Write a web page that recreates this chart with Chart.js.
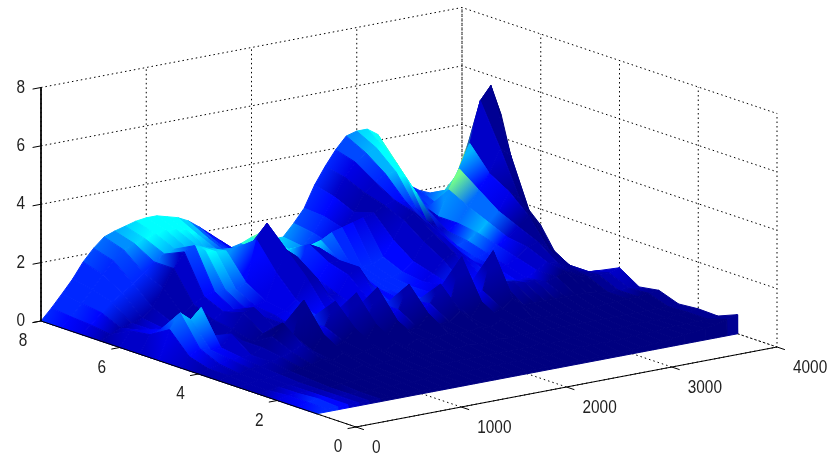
<!DOCTYPE html>
<html>
<head>
<meta charset="utf-8">
<style>
  body { margin: 0; background: #fff; }
  canvas { display: block; filter: blur(0.5px); }
</style>
<script src="https://cdn.jsdelivr.net/npm/chart.js@4/dist/chart.umd.min.js"></script>
</head>
<body>
<canvas id="myChart" width="828" height="456"></canvas>
<script>
const xTicks = [0, 1000, 2000, 3000, 4000];
const yTicks = [0, 2, 4, 6, 8];
const zTicks = [0, 2, 4, 6, 8];

// surface grid, back row first
const xs = [0,100,200,300,400,500,600,700,800,900,1000,1100,1200,1300,1400,1500,1600,1700,1800,1900,2000,2100,2200,2300,2400,2500,2600,2700,2800,2900,3000,3100,3200,3300,3400,3500,3600,3700,3800,3900,4000];
const ys = [8, 7.5, 7, 6.5, 6, 5.5, 5, 4.5, 4, 3.5, 3, 2.5, 2, 1.5, 1.01, 1];

const zRows = [
  [0,.38,.8,1.23,1.75,2.15,2.47,2.6,2.7,2.8, 2.85,2.85,2.75,2.65,2.47,2.2,1.9,1.6,1.27,1.35, 1.5,1.6,1.3,1.3,1.7,2.15,2.88,3.45,3.95,4.35, 4.45,4.45,4.2,3.4,2.67,2.25,2,1.85,1.7,1.8, 2.8],
  [0,.3,.7,1.1,1.55,1.95,2.25,2.4,2.5,2.6, 2.65,2.6,2.5,2.3,2.1,1.85,1.6,1.4,1.2,1.2, 1.3,1.2,1.1,1.2,1.6,2.1,2.7,3.3,3.75,4, 4.1,3.95,3.4,2.6,2,1.75,1.7,2.2,2.8,3.65, 4.8],
  [0,.25,.6,.9,1.15,1.4,1.7,2,2.2,2.3, 2.3,2.3,2.15,2,1.8,1.6,1.4,1.2,1,1, 1.1,1,.95,1.1,1.4,1.9,2.4,3,3.3,3.5, 3.5,3.2,2.6,2,1.7,2.55,3.2,4,5.4,5.85, 4.75],
  [0,.15,.3,.4,.5,.8,1.4,2,2.5,2.65, 2.4,2.3,2.25,2.3,2.2,2,2,1.9,1.9,1.9, 1.9,2,2.2,2.3,2.4,2.5,2.6,2.8,2.9,2.8, 2.5,2,1.7,1.5,1.7,2.2,2.7,3.2,4,3.7, 2.1],
  [0,.5,.45,.4,.4,.5,.7,1,1.2,1.3, 1.3,1.25,1.4,2.8,3.3,2.2,1.5,1.7,2.3,2.1, 1.8,1.5,1.3,1.2,1.2,1.4,1.9,2.5,2.7,2.3, 1.9,1.5,1.3,1.4,1.6,1.9,2.2,2.8,2.5,1.9, 1.45],
  [0,.6,.7,.6,.5,.4,.5,.7,.9,.9, .9,.9,1,1.9,2.6,2.3,1.4,1.4,1.9,1.9, 1.5,1.3,1.1,1,1,1.1,1.4,2,2.2,2, 1.6,1.2,1.1,1.2,1.4,1.6,1.9,2.2,1.6,1, .4],
  [0,1,1.5,1.2,1.55,.5,.4,.6,1.1,1.2, .8,.8,.9,1.2,1.9,1.8,1.2,1.1,1.7,1.9, 1.3,1,.9,.9,.9,1,1.2,1.6,1.8,1.6, 1.3,1.1,1,1,1.2,1.5,1.6,1.3,.9,.6, .27],
  [0,.3,.5,.4,.4,.8,.5,.4,.6,.8, .8,.6,.7,.9,1,.9,.7,.9,1.1,.9, .9,.9,.8,.8,.9,1.1,1,1,1.1,1, .9,.9,.8,.8,1,1.2,1.1,.9,.7,.6, .58],
  [0,.1,.2,.3,.3,.3,.5,.8,1.2,.7, 1.85,.7,.8,1.6,.7,1.75,.7,1.8,.8,.9, 1.7,.8,.9,1.5,.9,2.3,.9,1,2.3,1.1, 1.1,1,1,.9,1,1.1,.9,.8,.8,.8, .9],
  [0,.1,.1,.2,.2,.3,.4,.5,.7,.4, .9,.4,.5,.9,.4,.9,.4,.9,.5,.5, .9,.5,.5,.8,.5,1,.5,.6,.9,.6, .6,.6,.6,.6,.6,.6,.55,.5,.5,.5, .47],
  [0,.05,.1,.1,.15,.2,.25,.3,.4,.3, .5,.3,.4,.5,.3,.5,.3,.5,.4,.4, .5,.4,.4,.5,.4,.6,.4,.45,.5,.4, .4,.4,.4,.4,.4,.45,.45,.5,.5,.55, .58],
  [0,.05,.1,.1,.1,.15,.2,.2,.3,.2, .3,.2,.25,.3,.2,.3,.2,.3,.25,.25, .3,.25,.25,.3,.25,.35,.25,.3,.3,.3, .3,.3,.3,.3,.3,.3,.3,.3,.3,.32, .34],
  [0,.1,.1,.1,.1,.1,.15,.15,.2,.15, .2,.15,.2,.2,.15,.2,.15,.2,.2,.2, .2,.2,.2,.2,.2,.25,.2,.2,.25,.25, .25,.25,.25,.25,.3,.3,.3,.3,.35,.35, .4],
  [0,.1,.15,.1,.1,.1,.1,.1,.15,.1, .15,.1,.15,.15,.1,.15,.1,.15,.15,.15, .15,.15,.15,.15,.15,.2,.15,.2,.2,.2, .2,.2,.25,.25,.25,.3,.3,.3,.35,.35, .38],
  [0,.1,.1,.1,.1,.1,.1,.1,.1,.1, .1,.1,.1,.1,.1,.1,.1,.1,.1,.1, .1,.1,.1,.1,.1,.1,.1,.1,.1,.1, .15,.15,.2,.2,.25,.3,.35,.4,.45,.55, .65],
  [0,0,0,0,0,0,0,0,0,0, 0,0,0,0,0,0,0,0,0,0, 0,0,0,0,0,0,0,0,0,0, 0,0,0,0,0,0,0,0,0,0, 0]
];

// colour value of each grid point, same shape as zRows
const cRows = [
  [3,3,3,3,3,4,4,5,5,6, 6,6,6,6,5,3,2,2,3,6, 7,7,6,5,4,3,3,3,3,4, 5,6,6,7,6,3,3,4,5,8, 9],
  [2,3,3,3,3,3,4,5,6,6, 6,6,6,6,4,3,3,2,3,5, 6,6,5,4,3,3,2,1,3,4, 6,6,7,7,3,3,4,6,8,8, 1],
  [2,2,3,3,3,3,3,3,5,5, 5,5,5,4,3,3,2,2,3,4, 5,5,4,3,2,2,1,1,2,4, 6,6,6,1,2,7,8,2,1,0, 0],
  [1,1,1,1,1,1,1,1,2,5, 6,6,5,4,4,4,5,6,6,6, 6,5,3,3,2,2,1,1,2,3, 3,1,1,2,3,5,3,2,1,0, 0],
  [1,2,2,2,2,1,1,1,2,3, 4,4,3,2,1,1,3,5,1,2, 3,3,3,3,3,3,2,1,1,1, 1,2,3,4,5,5,3,1,0,0, 0],
  [1,2,3,2,2,1,1,1,2,2, 2,2,2,2,1,1,2,3,2,1, 2,3,3,3,3,3,2,1,1,2, 3,3,3,3,3,2,1,0,0,0, 1],
  [1,3,5,5,5,1,1,1,1,1, 1,2,2,2,1,1,1,2,2,1, 2,3,3,3,3,2,2,1,1,2, 2,2,2,2,2,1,1,0,0,1, 1],
  [1,2,3,3,2,1,1,0,1,1, 1,2,3,3,2,2,3,2,2,3, 3,2,3,3,2,2,3,3,2,3, 3,3,2,2,2,1,1,0,1,1, 2],
  [1,1,2,2,2,1,1,0,0,1, 0,2,2,0,2,0,2,0,2,2, 0,2,2,0,2,0,2,2,0,1, 1,1,1,1,0,0,0,0,1,1, 2],
  [1,1,1,1,1,1,1,1,1,0, 0,0,0,0,0,0,0,0,0,0, 0,0,0,0,0,0,0,0,0,0, 0,0,0,0,0,0,0,0,1,1, 1],
  [1,1,1,1,1,0,0,0,0,0, 0,0,0,0,0,0,0,0,0,0, 0,0,0,0,0,0,0,0,0,0, 0,0,0,0,0,0,0,0,0,0, 1],
  [1,1,1,1,1,0,0,0,0,0, 0,0,0,0,0,0,0,0,0,0, 0,0,0,0,0,0,0,0,0,0, 0,0,0,0,0,0,0,0,0,0, 1],
  [2,2,2,1,1,0,0,0,0,0, 0,0,0,0,0,0,0,0,0,0, 0,0,0,0,0,0,0,0,0,0, 0,0,0,0,0,0,0,0,0,0, 1],
  [2,3,3,2,1,1,0,0,0,0, 0,0,0,0,0,0,0,0,0,0, 0,0,0,0,0,0,0,0,0,0, 0,0,0,0,0,0,0,0,0,0, 1],
  [3,3,3,2,1,1,0,0,0,0, 0,0,0,0,0,0,0,0,0,0, 0,0,0,0,0,0,0,0,0,0, 0,0,0,0,0,0,0,0,0,0, 1],
  [3,3,3,2,1,1,0,0,0,0, 0,0,0,0,0,0,0,0,0,0, 0,0,0,0,0,0,0,0,0,0, 0,0,0,0,0,0,0,0,0,0, 1]
];

const X_MAX = 4000, Y_MAX = 8, Z_MAX = 8;

// orthographic view of the box, result is in the units of the two hidden scales
const project = (x, y, z) => {
  const a = x / X_MAX, b = y / Y_MAX;
  return {
    x: 356 + 421 * a - 315 * b,
    y: 427 - 80 * a - 106 * b - 233.5 * z / Z_MAX,
  };
};

// jet colormap, bent so the low values stay deep blue
const jet = c => {
  const t = 0.375 * Math.pow(c / 6, 1.2);
  const ramp = v => Math.round(255 * Math.max(0, Math.min(1, v)));
  return `rgb(${ramp(4 * t - 1.5)},${ramp(4 * t - 0.5)},${ramp(t < 0.375 ? 4 * t + 0.5 : 2.5 - 4 * t)})`;
};

const ctx = document.querySelector('#myChart').getContext('2d');
let datasets = [];

const addLine = (points, dash) => {
  datasets.push({
    data: points,
    showLine: true,
    pointRadius: 0,
    borderColor: '#000',
    borderWidth: 1,
    borderDash: dash ? [1.5, 3] : [],
    fill: false,
  });
};

// grid on the floor and the two back walls
zTicks.forEach(z => {
  addLine([project(0, Y_MAX, z), project(X_MAX, Y_MAX, z), project(X_MAX, 0, z)], true);
});
xTicks.forEach(x => {
  addLine([project(x, 0, 0), project(x, Y_MAX, 0), project(x, Y_MAX, Z_MAX)], true);
});
yTicks.forEach(y => {
  addLine([project(0, y, 0), project(X_MAX, y, 0), project(X_MAX, y, Z_MAX)], true);
});

// surface, painted back to front
for (let j = 0; j < ys.length - 1; j++) {
  for (let i = xs.length - 2; i >= 0; i--) {
    const p1 = project(xs[i], ys[j], zRows[j][i]);
    const p2 = project(xs[i + 1], ys[j], zRows[j][i + 1]);
    const p3 = project(xs[i + 1], ys[j + 1], zRows[j + 1][i + 1]);
    const p4 = project(xs[i], ys[j + 1], zRows[j + 1][i]);
    const grad = ctx.createLinearGradient((p1.x + p2.x) / 2, (p1.y + p2.y) / 2, (p3.x + p4.x) / 2, (p3.y + p4.y) / 2);
    grad.addColorStop(0, jet((cRows[j][i] + cRows[j][i + 1]) / 2));
    grad.addColorStop(1, jet((cRows[j + 1][i] + cRows[j + 1][i + 1]) / 2));
    datasets.push({
      data: [p1, p2, p3, p4, p1],
      showLine: true,
      pointRadius: 0,
      borderColor: grad,
      backgroundColor: grad,
      borderWidth: 1,
      fill: 'shape',
    });
  }
}

// axes and tick marks
addLine([project(0, Y_MAX, Z_MAX), project(0, Y_MAX, 0), project(0, 0, 0), project(X_MAX, 0, 0)], false);
zTicks.forEach(z => {
  addLine([project(0, Y_MAX, z), project(-80, Y_MAX, z)], false);
});
yTicks.forEach(y => {
  addLine([project(0, y, 0), project(-80, y, 0)], false);
});
xTicks.forEach(x => {
  addLine([project(x, 0, 0), project(x, -0.2, 0)], false);
});

const tickLabels = {
  id: 'tickLabels',
  afterDraw(chart) {
    const { ctx, scales } = chart;
    const put = (text, p, dx, dy, align) => {
      ctx.save();
      ctx.translate(scales.x.getPixelForValue(p.x) + dx, scales.y.getPixelForValue(p.y) + dy);
      ctx.scale(0.81, 1);
      ctx.textAlign = align;
      ctx.fillText(text, 0, 0);
      ctx.restore();
    };
    ctx.save();
    ctx.fillStyle = '#222';
    ctx.font = '19px "Liberation Sans", sans-serif';
    ctx.textBaseline = 'middle';
    zTicks.forEach(z => put(String(z), project(0, Y_MAX, z), -16, 0, 'right'));
    yTicks.forEach(y => put(String(y), project(0, y, 0), -18, 20, 'center'));
    xTicks.forEach(x => put(String(x), project(x, 0, 0), 16, 21, 'left'));
    ctx.restore();
  },
};

// the library paints the first dataset last
new Chart(ctx, {
  type: 'scatter',
  data: { datasets: datasets.reverse() },
  plugins: [tickLabels],
  options: {
    responsive: false,
    animation: false,
    layout: { padding: 0 },
    plugins: { legend: { display: false }, tooltip: { enabled: false } },
    scales: {
      x: { type: 'linear', display: false, min: 0, max: 828 },
      y: { type: 'linear', display: false, min: 0, max: 456, reverse: true },
    },
  },
});
</script>
</body>
</html>
